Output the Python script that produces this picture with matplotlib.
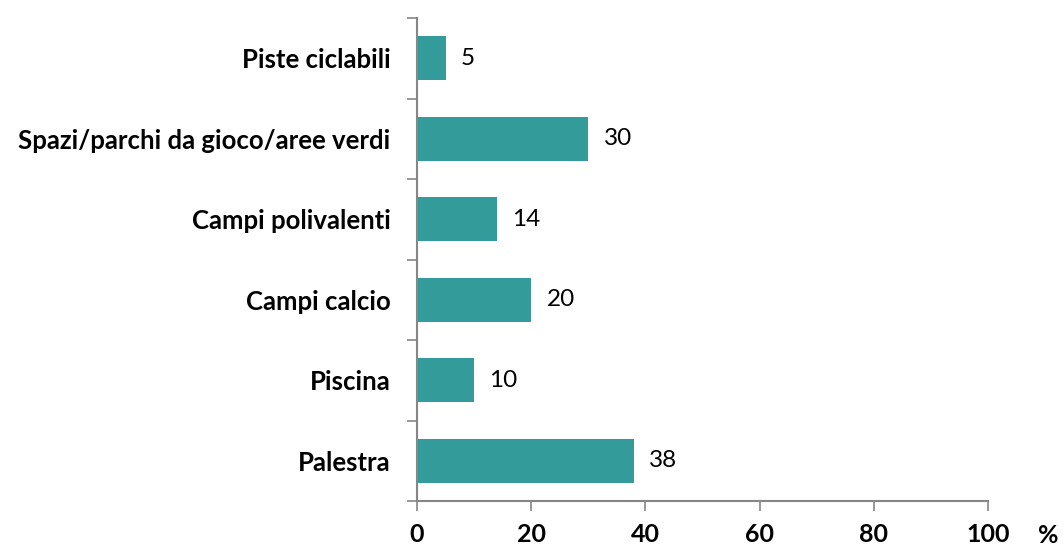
import matplotlib.pyplot as plt
import numpy as np

# Dati (%)
categorie = ['Palestra', 'Piscina', 'Campi calcio', 'Campi polivalenti',
             'Spazi/parchi da gioco/aree verdi', 'Piste ciclabili']
valori = [38, 10, 20, 14, 30, 5]
xticks = [0, 20, 40, 60, 80, 100]

plt.rcParams['font.family'] = ['Lato', 'DejaVu Sans']

colore = '#339b99'
grigio = '#868686'

fig = plt.figure(figsize=(10.63, 5.49), dpi=100)
ax = fig.add_axes([0.3923, 0.0874, 0.5372, 0.8798])

y = np.arange(len(categorie))
ax.barh(y, valori, height=0.55, color=colore)

# etichette dei valori accanto alle barre
for yi, v in zip(y, valori):
    ax.text(v + 2.7, yi, str(v), va='center', ha='left', fontsize=17.5, color='black')

ax.set_xlim(0, 100)
ax.set_ylim(-0.5, len(categorie) - 0.5)
ax.set_xticks(xticks)
ax.set_xticklabels([str(t) for t in xticks], fontsize=18, fontweight='bold')
ax.set_yticks(y)
ax.set_yticklabels(categorie, fontsize=18.5, fontweight='bold')
ax.set_yticks(np.arange(-0.5, len(categorie)), minor=True)

ax.tick_params(axis='y', which='major', length=0, pad=19)
ax.tick_params(axis='y', which='minor', length=7, width=1.2, color=grigio, direction='out')
ax.tick_params(axis='x', which='major', length=7, width=1.2, color=grigio, direction='out', pad=9)

for s in ['top', 'right']:
    ax.spines[s].set_visible(False)
for s in ['left', 'bottom']:
    ax.spines[s].set_color(grigio)
    ax.spines[s].set_linewidth(1.5)

ax.text(1.105, -34 / 483, '%', transform=ax.transAxes, fontsize=18, fontweight='bold',
        ha='center', va='center')

fig.savefig('out.png', dpi=100)
